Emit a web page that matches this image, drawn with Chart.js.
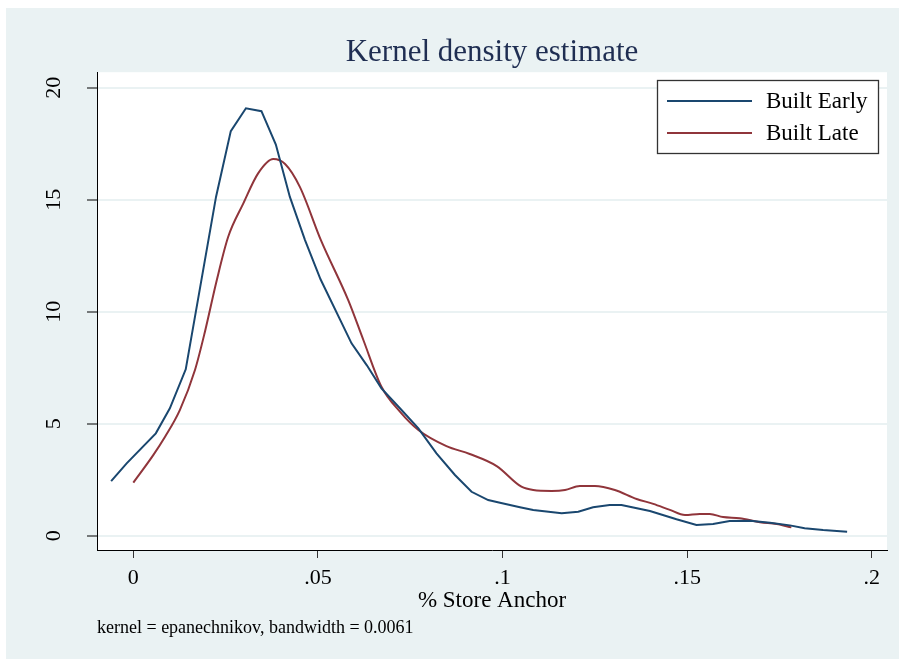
<!DOCTYPE html>
<html>
<head>
<meta charset="utf-8">
<script src="https://cdn.jsdelivr.net/npm/chart.js@4.4.0/dist/chart.umd.min.js"></script>
<style>
  html, body { margin: 0; padding: 0; background: #fff; }
</style>
</head>
<body>
<canvas id="kde" width="899" height="659"></canvas>
<script>
// Data
const earlyX = [-0.0060, -0.0018, 0.0061, 0.0099, 0.0142, 0.0224, 0.0264, 0.0305, 0.0347, 0.0386,
    0.0424, 0.0465, 0.0507, 0.0591, 0.0632, 0.0672, 0.0722, 0.0772, 0.0821, 0.0871,
    0.0916, 0.0961, 0.0993, 0.1047, 0.1083, 0.1160, 0.1205, 0.1245, 0.1290, 0.1322,
    0.1399, 0.1471, 0.1525, 0.1570, 0.1615, 0.1670, 0.1724, 0.1778, 0.1818, 0.1868, 0.1933];
const earlyY = [2.44, 3.23, 4.57, 5.69, 7.43, 15.13, 18.07, 19.09, 18.96, 17.47,
    15.13, 13.2, 11.45, 8.59, 7.62, 6.58, 5.69, 4.79, 3.68, 2.71,
    1.96, 1.59, 1.47, 1.27, 1.15, 1.0, 1.07, 1.27, 1.37, 1.37,
    1.10, 0.73, 0.48, 0.52, 0.66, 0.67, 0.58, 0.46, 0.33, 0.25, 0.18];

const lateX = [0.0000, 0.0054, 0.0086, 0.0126, 0.0167, 0.0194, 0.0226, 0.0257, 0.0298, 0.0338,
    0.0379, 0.0411, 0.0451, 0.0508, 0.0582, 0.0623, 0.0672, 0.0722, 0.0772, 0.0848,
    0.0911, 0.0984, 0.1051, 0.1083, 0.1133, 0.1169, 0.1209, 0.1250, 0.1304, 0.1363,
    0.1408, 0.1453, 0.1494, 0.1534, 0.1561, 0.1597, 0.1642, 0.1697, 0.1742, 0.1782];
const lateY = [2.37, 3.60, 4.42, 5.61, 7.40, 9.11, 11.41, 13.35, 14.84, 16.18,
    16.82, 16.60, 15.58, 13.2, 10.52, 8.74, 6.65, 5.54, 4.72, 4.0,
    3.65, 3.11, 2.19, 2.04, 2.0, 2.04, 2.22, 2.22, 2.04, 1.64,
    1.42, 1.15, 0.92, 0.97, 0.97, 0.83, 0.78, 0.60, 0.52, 0.37];

const seriesNames = ['Built Early', 'Built Late'];
const xTicks = [0, 0.05, 0.1, 0.15, 0.2];
const xTickLabels = ['0', '.05', '.1', '.15', '.2'];
const yTicks = [0, 5, 10, 15, 20];
const yTickLabels = ['0', '5', '10', '15', '20'];

const serif = 'Liberation Serif, Times New Roman, serif';
const panelColor = '#EAF2F3';

function toPoints(xs, ys) {
    return xs.map((x, i) => ({ x: x, y: ys[i] }));
}

// light blue panel + white plot region, drawn before the scales
const backdrop = {
    id: 'backdrop',
    beforeDraw(chart) {
        const { ctx, chartArea } = chart;
        ctx.save();
        ctx.fillStyle = '#fff';
        ctx.fillRect(0, 0, chart.width, chart.height);
        ctx.fillStyle = panelColor;
        ctx.fillRect(6, 8, chart.width - 6, chart.height - 8);
        ctx.fillStyle = '#fff';
        ctx.fillRect(chartArea.left, chartArea.top, chartArea.right - chartArea.left, chartArea.bottom - chartArea.top);
        ctx.restore();
    }
};

// Stata style legend box in the top right corner
const boxLegend = {
    id: 'boxLegend',
    afterDraw(chart) {
        const ctx = chart.ctx;
        const left = 657.5, top = 80.5, w = 221, h = 73;
        ctx.save();
        ctx.fillStyle = '#fff';
        ctx.fillRect(left, top, w, h);
        ctx.strokeStyle = '#333';
        ctx.lineWidth = 1.3;
        ctx.strokeRect(left, top, w, h);
        chart.data.datasets.forEach((ds, i) => {
            const y = 101 + i * 32;
            ctx.strokeStyle = ds.borderColor;
            ctx.lineWidth = 2;
            ctx.beginPath();
            ctx.moveTo(667, y);
            ctx.lineTo(752, y);
            ctx.stroke();
            ctx.fillStyle = '#000';
            ctx.font = '23px ' + serif;
            ctx.textBaseline = 'middle';
            ctx.textAlign = 'left';
            ctx.fillText(ds.label, 766, y + 1);
        });
        ctx.restore();
    }
};

const ctx = document.getElementById('kde').getContext('2d');

new Chart(ctx, {
    type: 'line',
    data: {
        datasets: [{
            label: seriesNames[0],
            data: toPoints(earlyX, earlyY),
            borderColor: '#1A476F',
            borderWidth: 2,
            pointRadius: 0,
            tension: 0,
            fill: false
        }, {
            label: seriesNames[1],
            data: toPoints(lateX, lateY),
            borderColor: '#90353B',
            borderWidth: 2,
            pointRadius: 0,
            cubicInterpolationMode: 'monotone',
            fill: false
        }]
    },
    options: {
        responsive: false,
        animation: false,
        layout: { padding: { left: 0, right: 12, top: 0, bottom: 0 } },
        plugins: {
            legend: { display: false },
            tooltip: { enabled: false },
            title: {
                display: true,
                text: 'Kernel density estimate',
                fullSize: false,
                color: '#1f2e52',
                font: { family: serif, size: 31, weight: 'normal', lineHeight: 1.2 },
                padding: { top: 34.5, bottom: 0.5 }
            },
            subtitle: {
                display: true,
                position: 'bottom',
                align: 'start',
                fullSize: false,
                text: 'kernel = epanechnikov, bandwidth = 0.0061',
                color: '#000',
                font: { family: serif, size: 18, weight: 'normal', lineHeight: 1.2 },
                padding: { top: 2, bottom: 20.4 }
            }
        },
        scales: {
            x: {
                type: 'linear',
                min: -0.00983,
                max: 0.2041,
                afterFit(scale) { scale.height = 65; },
                afterBuildTicks(scale) { scale.ticks = xTicks.map(v => ({ value: v })); },
                border: { display: true, color: '#000', width: 1 },
                grid: { display: true, drawOnChartArea: false, drawTicks: true, tickLength: 8, tickColor: '#333', tickWidth: 1 },
                ticks: {
                    color: '#000',
                    padding: 7,
                    maxRotation: 0,
                    font: { family: serif, size: 22 },
                    callback: (v, i) => xTickLabels[i]
                },
                title: {
                    display: true,
                    text: '% Store Anchor',
                    color: '#000',
                    font: { family: serif, size: 23, lineHeight: 1.2 },
                    padding: { top: 0, bottom: 0 }
                }
            },
            y: {
                type: 'linear',
                min: -0.64,
                max: 20.7,
                afterFit(scale) { scale.width = 97; },
                afterBuildTicks(scale) { scale.ticks = yTicks.map(v => ({ value: v })); },
                border: { display: true, color: '#000', width: 1 },
                grid: { display: true, drawOnChartArea: true, color: panelColor, lineWidth: 2, drawTicks: true, tickLength: 10, tickColor: '#000', tickWidth: 1 },
                ticks: {
                    color: '#000',
                    padding: 22,
                    minRotation: 90,
                    maxRotation: 90,
                    crossAlign: 'center',
                    font: { family: serif, size: 22 },
                    callback: (v, i) => yTickLabels[i]
                }
            }
        }
    },
    plugins: [backdrop, boxLegend]
});
</script>
</body>
</html>
